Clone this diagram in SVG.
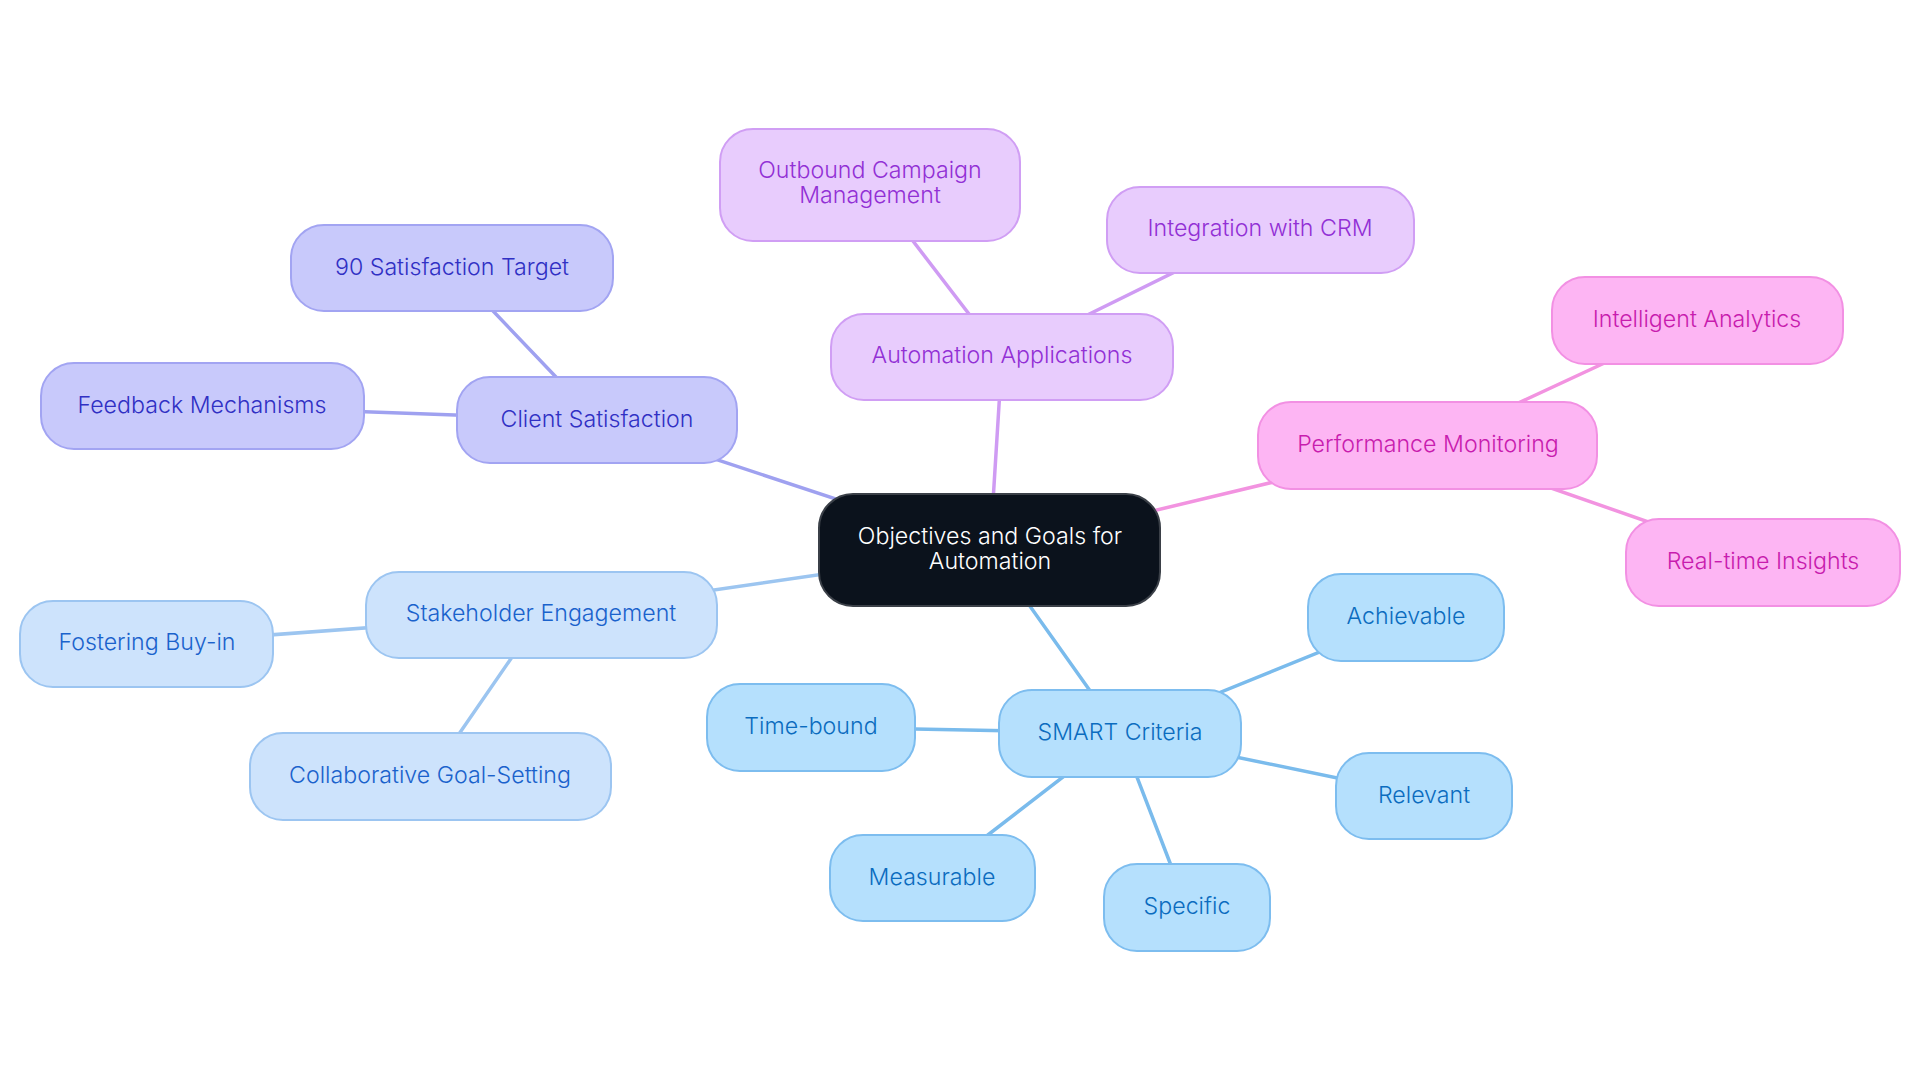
<svg xmlns="http://www.w3.org/2000/svg" width="1920" height="1083" viewBox="0 0 1920 1083">
<style>
text{font-family:Inter,"Noto Sans",sans-serif;font-size:23.2px;font-weight:300;text-anchor:middle}
.c1 rect{fill:#c8c9fb;stroke:#a2a4f2;stroke-width:2}
.c1 text{fill:#3030c4}
.c2 rect{fill:#e8ccfd;stroke:#d09ef4;stroke-width:2}
.c2 text{fill:#9230d5}
.c3 rect{fill:#fdb5f3;stroke:#f290e3;stroke-width:2}
.c3 text{fill:#c81cae}
.c4 rect{fill:#cde3fc;stroke:#9cc5f1;stroke-width:2}
.c4 text{fill:#1a62cc}
.c5 rect{fill:#b5e0fd;stroke:#7dbdef;stroke-width:2}
.c5 text{fill:#0b6cbf}
.root rect{fill:#0b121c;stroke:#3b4048;stroke-width:2}
.root text{fill:#ffffff}
#edges line{stroke-width:3.5;stroke-linecap:round}
.e1{stroke:#9fa1f0}.e2{stroke:#cf9bf3}.e3{stroke:#f293e0}.e4{stroke:#9cc5f0}.e5{stroke:#7abbec}
</style>
<rect width="1920" height="1083" fill="#ffffff"/>
<g id="edges">
<line class="e1" x1="990" y1="550" x2="597" y2="420"/>
<line class="e1" x1="597" y1="420" x2="452" y2="268"/>
<line class="e1" x1="597" y1="420" x2="202" y2="406"/>
<line class="e2" x1="990" y1="550" x2="1002" y2="357"/>
<line class="e2" x1="1002" y1="357" x2="870" y2="185"/>
<line class="e2" x1="1002" y1="357" x2="1260" y2="230"/>
<line class="e3" x1="990" y1="550" x2="1428" y2="445"/>
<line class="e3" x1="1428" y1="445" x2="1697" y2="320"/>
<line class="e3" x1="1428" y1="445" x2="1763" y2="562"/>
<line class="e4" x1="990" y1="550" x2="541" y2="615"/>
<line class="e4" x1="541" y1="615" x2="147" y2="644"/>
<line class="e4" x1="541" y1="615" x2="430" y2="776"/>
<line class="e5" x1="990" y1="550" x2="1120" y2="733"/>
<line class="e5" x1="1120" y1="733" x2="1406" y2="617"/>
<line class="e5" x1="1120" y1="733" x2="811" y2="727"/>
<line class="e5" x1="1120" y1="733" x2="1424" y2="796"/>
<line class="e5" x1="1120" y1="733" x2="932" y2="878"/>
<line class="e5" x1="1120" y1="733" x2="1187" y2="907"/>
</g>
<g id="root" class="root">
<rect x="819" y="494" width="341" height="112" rx="34"/>
<text x="990" y="544">Objectives and Goals for</text>
<text x="990" y="569">Automation</text>
</g>
<g id="client-satisfaction" class="c1">
<rect x="457" y="377" width="280" height="86" rx="33"/>
<text x="597" y="427">Client Satisfaction</text>
</g>
<g id="satisfaction-target" class="c1">
<rect x="291" y="225" width="322" height="86" rx="33"/>
<text x="452" y="275">90 Satisfaction Target</text>
</g>
<g id="feedback-mechanisms" class="c1">
<rect x="41" y="363" width="323" height="86" rx="33"/>
<text x="202" y="413">Feedback Mechanisms</text>
</g>
<g id="automation-applications" class="c2">
<rect x="831" y="314" width="342" height="86" rx="33"/>
<text x="1002" y="363">Automation Applications</text>
</g>
<g id="outbound-campaign" class="c2">
<rect x="720" y="129" width="300" height="112" rx="33"/>
<text x="870" y="178">Outbound Campaign</text>
<text x="870" y="203">Management</text>
</g>
<g id="integration-crm" class="c2">
<rect x="1107" y="187" width="307" height="86" rx="33"/>
<text x="1260" y="236">Integration with CRM</text>
</g>
<g id="performance-monitoring" class="c3">
<rect x="1258" y="402" width="339" height="87" rx="33"/>
<text x="1428" y="452">Performance Monitoring</text>
</g>
<g id="intelligent-analytics" class="c3">
<rect x="1552" y="277" width="291" height="87" rx="33"/>
<text x="1697" y="327">Intelligent Analytics</text>
</g>
<g id="realtime-insights" class="c3">
<rect x="1626" y="519" width="274" height="87" rx="33"/>
<text x="1763" y="569">Real-time Insights</text>
</g>
<g id="stakeholder-engagement" class="c4">
<rect x="366" y="572" width="351" height="86" rx="33"/>
<text x="541" y="621">Stakeholder Engagement</text>
</g>
<g id="fostering-buyin" class="c4">
<rect x="20" y="601" width="253" height="86" rx="33"/>
<text x="147" y="650">Fostering Buy-in</text>
</g>
<g id="collaborative-goal" class="c4">
<rect x="250" y="733" width="361" height="87" rx="33"/>
<text x="430" y="783">Collaborative Goal-Setting</text>
</g>
<g id="smart-criteria" class="c5">
<rect x="999" y="690" width="242" height="87" rx="33"/>
<text x="1120" y="740">SMART Criteria</text>
</g>
<g id="achievable" class="c5">
<rect x="1308" y="574" width="196" height="87" rx="33"/>
<text x="1406" y="624">Achievable</text>
</g>
<g id="time-bound" class="c5">
<rect x="707" y="684" width="208" height="87" rx="33"/>
<text x="811" y="734">Time-bound</text>
</g>
<g id="relevant" class="c5">
<rect x="1336" y="753" width="176" height="86" rx="33"/>
<text x="1424" y="803">Relevant</text>
</g>
<g id="measurable" class="c5">
<rect x="830" y="835" width="205" height="86" rx="33"/>
<text x="932" y="885">Measurable</text>
</g>
<g id="specific" class="c5">
<rect x="1104" y="864" width="166" height="87" rx="33"/>
<text x="1187" y="914">Specific</text>
</g>
</svg>
